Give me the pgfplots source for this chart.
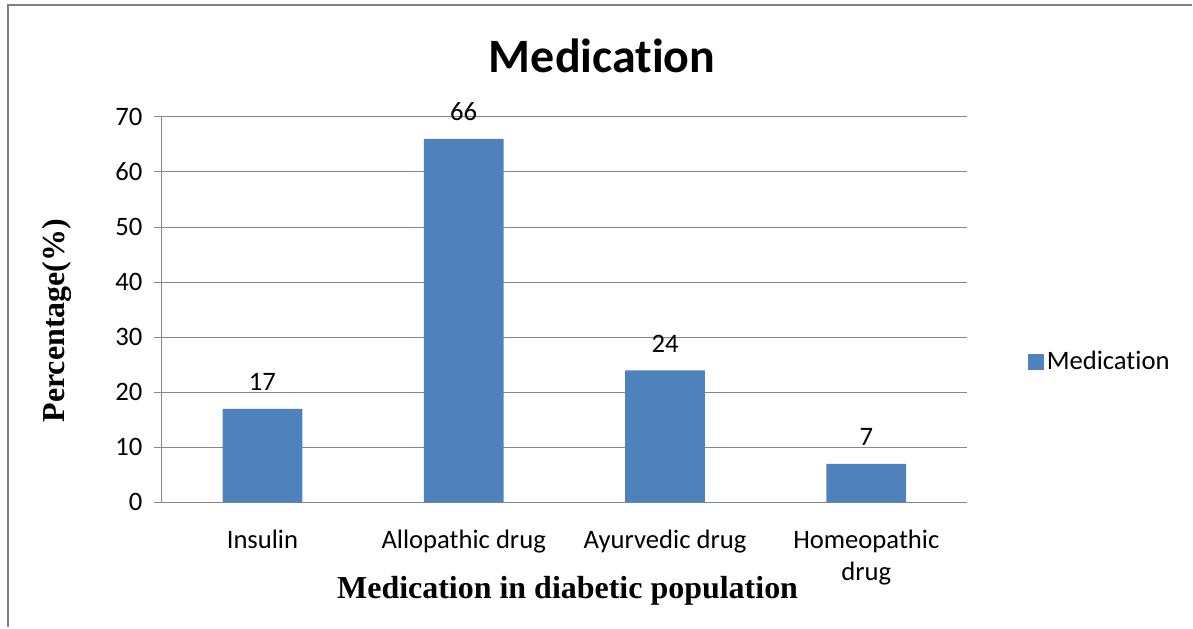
\documentclass[border=0pt]{standalone}
\usepackage{pgfplots}
\pgfplotsset{compat=1.18}
\usepackage{fontspec}
\setmainfont{Liberation Serif}
\newfontfamily\calibri[Ligatures={NoCommon}]{Carlito}
\definecolor{barblue}{HTML}{4F81BD}
\definecolor{gridgray}{HTML}{868686}
\definecolor{framegray}{HTML}{7F7F7F}
\begin{document}
\begin{tikzpicture}
\path (0,0) rectangle (894.75pt,471pt);
\draw[framegray, line width=2pt] (6pt,0) -- (6pt,467.25pt) -- (894.75pt,467.25pt);
\begin{axis}[
  at={(121.5pt,93.75pt)}, anchor=south west,
  scale only axis, width=604.5pt, height=289.5pt,
  xmin=-0.5, xmax=3.5, ymin=0, ymax=70,
  ytick={0,10,...,70},
  xtick={0,1,2,3},
  xticklabels={Insulin, Allopathic drug, Ayurvedic drug, Homeopathic\\drug},
  major x tick style={draw=none},
  extra x ticks={-0.5,0.5,1.5,2.5,3.5},
  extra x tick labels={},
  extra x tick style={tick style={gridgray, line width=0.8pt}, major tick length=6pt, tick pos=bottom},
  axis lines=left, axis line style={-, gridgray, line width=0.8pt},
  ymajorgrids, grid style={gridgray, line width=0.8pt},
  tick align=outside, major tick length=6pt,
  ytick style={gridgray, line width=0.8pt},
  /pgf/number format/assume math mode=true,
  ticklabel style={font=\calibri\fontsize{20}{24}\selectfont, text=black},
  xticklabel style={align=center, yshift=-11pt},
  yticklabel style={xshift=-5pt},
  ylabel={\bfseries Percentage(\%)},
  ylabel style={font=\fontsize{24}{28}\selectfont, at={(rel axis cs:-0.1303,0.4715)}, anchor=center},
  xlabel={\bfseries Medication in diabetic population},
  xlabel style={font=\fontsize{24}{28}\selectfont, at={(rel axis cs:0.504,-0.2300)}, anchor=center},
  title={\bfseries Medication},
  title style={font=\calibri\fontsize{36}{40}\selectfont, at={(rel axis cs:0.547,1.137)}, anchor=center},
  ybar, bar width=60pt,
  nodes near coords,
  nodes near coords style={font=\calibri\fontsize{20}{24}\selectfont, text=black, yshift=10pt},
  legend style={at={(rel axis cs:1.0757,0.365)}, anchor=west, draw=none, fill=none, inner sep=0pt,
    font=\calibri\fontsize{20}{24}\selectfont, legend cell align=left},
  legend image code/.code={\fill[barblue] (0pt,-6pt) rectangle (12pt,6pt);},
]
\addplot[fill=barblue, draw=none] coordinates {(0,17) (1,66) (2,24) (3,7)};
\addlegendentry{Medication}
\end{axis}
\end{tikzpicture}
\end{document}
